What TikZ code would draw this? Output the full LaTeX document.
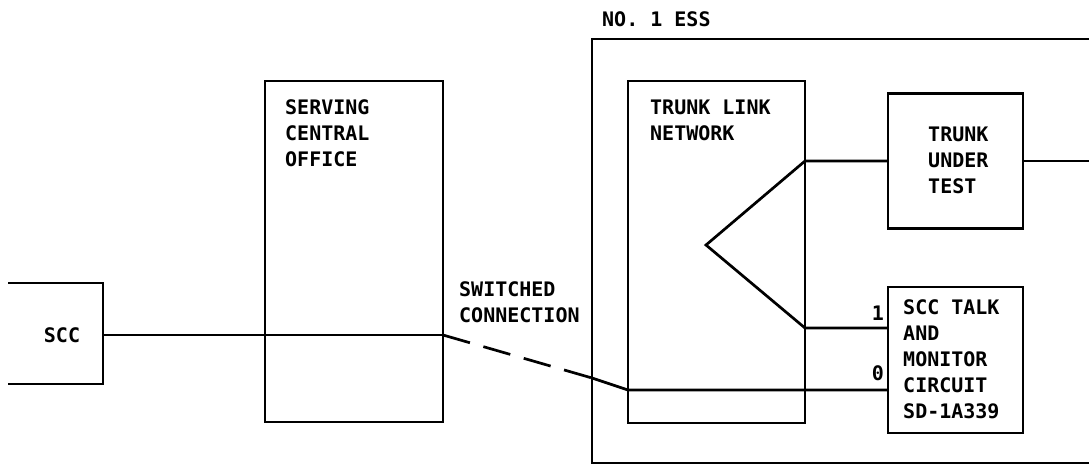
\documentclass[tikz,border=0pt]{standalone}
\usepackage{fontspec}
\usepackage{xcolor}
\usepackage{tikz}
\usetikzlibrary{positioning}
\newfontfamily\plotter{DejaVu Sans Mono}
\definecolor{ink}{HTML}{000000}
\tikzset{
  blk/.style={draw=ink, line width=2.7pt, rectangle, outer sep=0pt, inner sep=0pt},
  wire/.style={draw=ink, line width=2.7pt, line join=miter},
  txt/.style={inner sep=0pt, anchor=west, align=left, text=ink,
    font=\plotter\bfseries\fontsize{20}{26}\selectfont}
}
\begin{document}
\begin{tikzpicture}[x=1pt, y=-1pt]
  \useasboundingbox (0,0) rectangle (1089,466);

  % test desk side
  \draw[wire] (8,283) -| (103,384) -- (8,384);
  \coordinate (sccE) at (103,335);
  \node[txt, anchor=center] (scc) at (62,335.5) {SCC};

  % serving office
  \node[blk, minimum width=178, minimum height=341] (sco) at (354,251.5) {};
  \node[txt] (scoL) at (285,133) {SERVING\\CENTRAL\\OFFICE};
  \node[txt] (swL) at (459,302) {SWITCHED\\CONNECTION};

  % no. 1 ess frame
  \draw[wire] (1089,39) -- (592,39) -- (592,463) -- (1089,463);
  \node[txt] (essL) at (602,19) {NO. 1 ESS};
  \coordinate (essIn) at (592,378);

  \node[blk, minimum width=177, minimum height=342] (tln) at (716.5,252) {};
  \node[txt] (tlnL) at (650,120) {TRUNK LINK\\NETWORK};

  \node[blk, minimum width=135, minimum height=135] (tut) at (955.5,161) {};
  \node[txt] (tutL) at (928,160.5) {TRUNK\\UNDER\\TEST};

  \node[blk, minimum width=135, minimum height=146] (talk) at (955.5,360) {};
  \node[txt] (talkL) at (903,359) {SCC TALK\\AND\\MONITOR\\CIRCUIT\\SD-1A339};

  \coordinate (apex) at (706,245);
  \coordinate (t1) at (talk.west |- 0,328);
  \coordinate (t0) at (talk.west |- 0,390);
  \node[txt, anchor=center] (one) at (878,313) {1};
  \node[txt, anchor=center] (zero) at (878,373) {0};

  % connections
  \draw[wire] (sccE) -- (sccE -| sco.east);
  \draw[wire, dash pattern=on 28pt off 14pt] (sccE -| sco.east) -- (essIn);
  \draw[wire] (essIn) -- (tln.west |- t0) -- (t0);
  \draw[wire] (tut.west) -- (tln.east |- tut.west) -- (apex) -- (tln.east |- t1) -- (t1);
  \draw[wire] (tut.east) -- (1089,161);
\end{tikzpicture}
\end{document}
